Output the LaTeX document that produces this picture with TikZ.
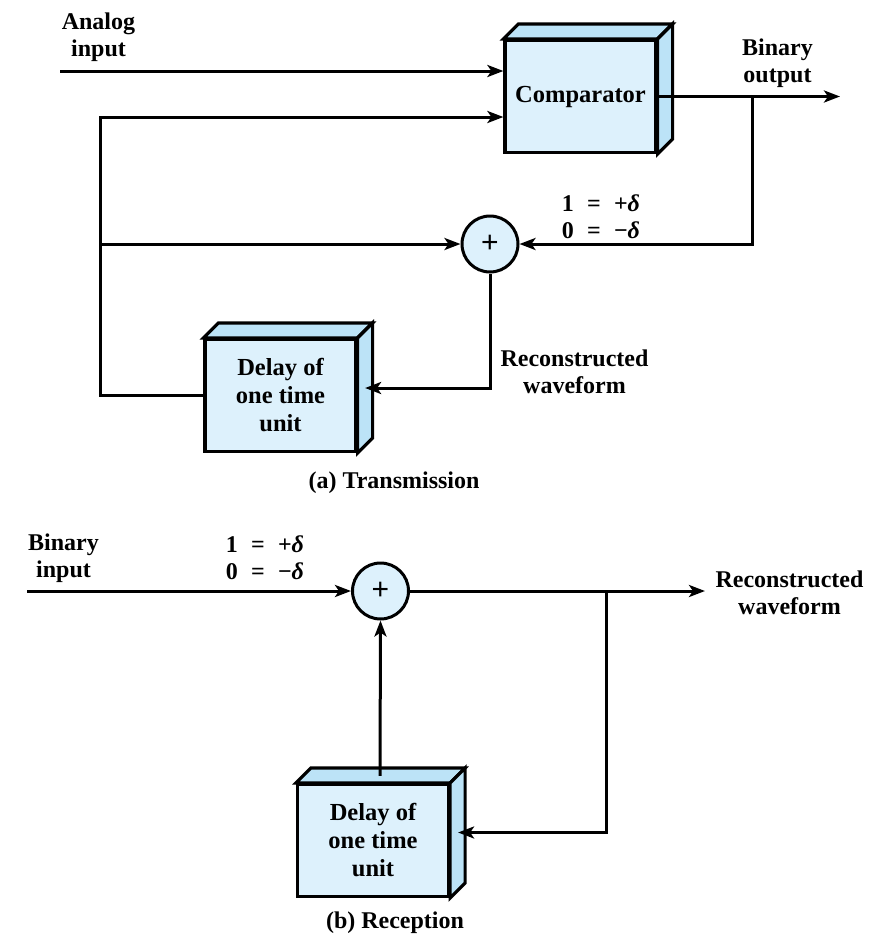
\documentclass[tikz,border=0pt]{standalone}
\usepackage{fontspec}
\setmainfont{Liberation Serif}
\setsansfont{Liberation Sans}
\usetikzlibrary{arrows.meta,calc}
\definecolor{frontc}{HTML}{DDF1FC}
\definecolor{sidec}{HTML}{BCE3F7}
\newcommand{\eqsp}{\hspace{0.55em}}
\tikzset{
  lbl/.style={font=\fontsize{24}{27}\selectfont\bfseries, align=center, inner sep=0pt},
  frontbox/.style={draw, line width=3.2pt, fill=frontc, minimum width=151pt, minimum height=112pt, inner sep=0pt, font=\fontsize{24.5}{28}\selectfont\bfseries, align=center},
  face/.style={draw, line width=3.2pt, fill=sidec, line join=miter},
  sumnode/.style={circle, draw, line width=3pt, fill=frontc, minimum size=56pt, inner sep=0pt, font=\sffamily\fontsize{30}{30}\selectfont},
  conn/.style={line width=3pt},
  arr/.style={conn, -{Stealth[length=16pt,width=12pt,inset=4pt]}},
}
\newcommand{\boxfaces}[1]{%
  \draw[face] (#1.north west) -- ++(15,-15) -- ($(#1.north east)+(15,-15)$) -- (#1.north east) -- cycle;
  \draw[face] (#1.north east) -- ($(#1.north east)+(15,-15)$) -- ($(#1.south east)+(15,-15)$) -- (#1.south east) -- cycle;
}
\begin{document}
\begin{tikzpicture}[x=1pt,y=-1pt]
\useasboundingbox (0,0) rectangle (891,946);
% ---------- (a) Transmission ----------
\node[frontbox] (comp) at (580.5,96.5) {Comparator};
\boxfaces{comp}
\node[frontbox] (dla) at (280.5,395.5) {Delay of\\one time\\unit};
\boxfaces{dla}
\node[sumnode] (suma) at (490,244) {+};

\node[lbl] (lanalog) at (98.5,37) {Analog\\input};
\node[lbl] (lbout) at (777.5,63) {Binary\\output};
\node[lbl] (ldelta) at (601,217) {1\eqsp=\eqsp+\textit{δ}\\0\eqsp=\eqsp−\textit{δ}};
\node[lbl] (lrecon) at (574.5,372) {Reconstructed\\waveform};
\node[lbl] (capa) at (394,483) {(a) Transmission};

\coordinate (ain) at (60,71);
\coordinate (fbtop) at (100,117);
\coordinate (br1) at (100,244);
\coordinate (out) at (840,96.5);
\coordinate (br2) at (752,96.5);
\coordinate (dlain) at ($(dla.east)+(7.5,-7.5)$);

\draw[arr] (ain) -- (comp.west |- ain);
\draw[arr] (dla.west) -| (fbtop) -- (comp.west |- fbtop);
\draw[arr] (br1) -- (suma.west);
\draw[arr] (comp.east) -- (out);
\draw[arr] (br2) |- (suma.east);
\draw[arr] (suma.south) |- (dlain);

% ---------- (b) Reception ----------
\node[frontbox] (dlb) at (373,840.5) {Delay of\\one time\\unit};
\boxfaces{dlb}
\node[sumnode] (sumb) at (380.5,591) {+};

\node[lbl] (lbin) at (63.5,558) {Binary\\input};
\node[lbl] (ldeltab) at (265,558) {1\eqsp=\eqsp+\textit{δ}\\0\eqsp=\eqsp−\textit{δ}};
\node[lbl] (lreconb) at (789.5,593) {Reconstructed\\waveform};
\node[lbl] (capb) at (395,923) {(b) Reception};

\coordinate (bin) at (27,591);
\coordinate (bout) at (705,591);
\coordinate (br3) at (606,591);
\coordinate (dlbin) at ($(dlb.east)+(8,-8)$);
\coordinate (dlbtop) at ($(dlb.north)+(7,-7)$);

\draw[arr] (bin) -- (sumb.west);
\draw[arr] (sumb.east) -- (bout);
\draw[arr] (br3) |- (dlbin);
\draw[arr] (dlbtop) -- (sumb.south);
\end{tikzpicture}
\end{document}
